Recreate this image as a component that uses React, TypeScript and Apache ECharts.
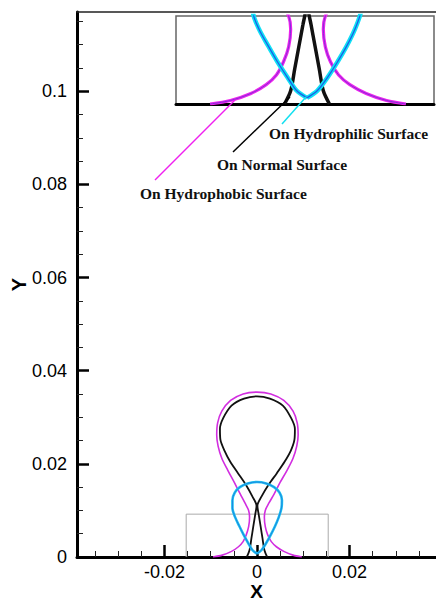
import React, { useEffect, useRef } from "react";
import * as echarts from "echarts";

// ---- tick values ----
const xMajorTicks = [-0.02, 0, 0.02];
const xMinorTicks = [-0.035, -0.03, -0.025, -0.015, -0.01, -0.005, 0.005, 0.01, 0.015, 0.025, 0.03, 0.035];
const yMajorTicks = [0, 0.02, 0.04, 0.06, 0.08, 0.1];
const yMinorTicks = [0.005, 0.01, 0.015, 0.025, 0.03, 0.035, 0.045, 0.05, 0.055, 0.065, 0.07, 0.075, 0.085, 0.09, 0.095, 0.105, 0.11, 0.115];

// ---- bubble outlines [x, y] ----
const hydrophobic: number[][] = [
  [-0.0095, 0], [-0.0075, 0.0004], [-0.0055, 0.0012], [-0.004, 0.0022], [-0.003, 0.0033],
  [-0.0023, 0.0048], [-0.0018, 0.0065], [-0.0016, 0.0085], [-0.0018, 0.01], [-0.0026, 0.0116],
  [-0.0036, 0.0135], [-0.0049, 0.016], [-0.0063, 0.0186], [-0.0076, 0.0212], [-0.0084, 0.0238],
  [-0.0087, 0.0262], [-0.0085, 0.0288], [-0.0076, 0.0313], [-0.0057, 0.0336], [-0.003, 0.035],
  [0, 0.0354],
  [0.003, 0.035], [0.0058, 0.0336], [0.0078, 0.0313], [0.0087, 0.0288], [0.0089, 0.0262],
  [0.0086, 0.0238], [0.0078, 0.0212], [0.0065, 0.0186], [0.005, 0.016], [0.0037, 0.0135],
  [0.0026, 0.0116], [0.0018, 0.01], [0.0016, 0.0085], [0.0018, 0.0065], [0.0023, 0.0048],
  [0.0031, 0.0033], [0.0042, 0.0022], [0.0058, 0.0012], [0.0078, 0.0004], [0.0097, 0],
];

const normal: number[][] = [
  [-0.0022, 0], [-0.0016, 0.0015], [-0.0012, 0.004], [-0.0008, 0.0065], [-0.0004, 0.009],
  [-0.0001, 0.011], [-0.001, 0.013], [-0.0024, 0.0155], [-0.0041, 0.018], [-0.0058, 0.0205],
  [-0.007, 0.0228], [-0.0079, 0.0252], [-0.008, 0.0275], [-0.0073, 0.0298], [-0.0055, 0.0325],
  [-0.0028, 0.034], [0, 0.0345],
  [0.0028, 0.034], [0.0056, 0.0325], [0.0074, 0.0298], [0.0082, 0.0275], [0.0081, 0.0252],
  [0.0073, 0.0228], [0.006, 0.0205], [0.0043, 0.018], [0.0025, 0.0155], [0.001, 0.013],
  [0.0001, 0.011], [0.0004, 0.009], [0.0008, 0.0065], [0.0012, 0.004], [0.0016, 0.0015],
  [0.0022, 0],
];

const hydrophilic: number[][] = [
  [0, 0.0007], [-0.001, 0.0015], [-0.0019, 0.003], [-0.0029, 0.0048], [-0.0038, 0.0066],
  [-0.0047, 0.0085], [-0.0053, 0.0105], [-0.0053, 0.0122], [-0.0048, 0.0138], [-0.0037, 0.015],
  [-0.002, 0.0158], [0, 0.0161], [0.002, 0.0158], [0.0037, 0.015], [0.0049, 0.0138],
  [0.0054, 0.0122], [0.0053, 0.0105], [0.0047, 0.0085], [0.0039, 0.0066], [0.003, 0.0048],
  [0.002, 0.003], [0.001, 0.0015], [0, 0.0007],
];

// zoom window drawn on the main plot
const zoomBox: number[][] = [
  [-0.0153, 0], [-0.0153, 0.0092], [0.0154, 0.0092], [0.0154, 0],
];

const FONT = "Liberation Sans, Arial, sans-serif";
const SERIF = "Liberation Serif, Times New Roman, serif";

export default function App() {
  const ref = useRef<HTMLDivElement>(null);
  useEffect(() => {
    if (!ref.current) return;
    const chart = echarts.init(ref.current, null, { renderer: "svg" });
    const lineBase = { type: "line", showSymbol: false, symbol: "none", smooth: 0.3, silent: true };
    const main = { xAxisIndex: 0, yAxisIndex: 0 };
    const ins = { xAxisIndex: 3, yAxisIndex: 2 };
    chart.setOption({
      animation: false,
      backgroundColor: "#fff",
      grid: [
        { left: 77, top: 12, width: 359, height: 545, outerBoundsMode: "none", containLabel: false },
        { left: 176, top: 16, width: 258, height: 88, outerBoundsMode: "none", containLabel: false, show: true, borderColor: "#666", borderWidth: 1.5, backgroundColor: "#fff", z: 5 },
      ],
      xAxis: [
        {
          type: "value", gridIndex: 0, min: -0.0389, max: 0.0387, position: "bottom",
          splitLine: { show: false },
          axisLine: { show: true, onZero: false, lineStyle: { color: "#000", width: 3 } },
          axisTick: { show: true, inside: true, length: 12, customValues: xMajorTicks, lineStyle: { color: "#000", width: 2.5 } },
          axisLabel: { show: true, customValues: xMajorTicks, margin: 6, fontSize: 18, lineHeight: 18, color: "#000", fontFamily: FONT },
          name: "X", nameLocation: "middle", nameGap: 26, nameMoveOverlap: false,
          nameTextStyle: { fontSize: 19, lineHeight: 17, fontWeight: "bold", color: "#000", fontFamily: FONT },
        },
        {
          type: "value", gridIndex: 0, min: -0.0389, max: 0.0387, position: "bottom",
          splitLine: { show: false }, axisLine: { show: false, onZero: false },
          axisTick: { show: true, inside: true, length: 6, customValues: xMinorTicks, lineStyle: { color: "#222", width: 1 } },
          axisLabel: { show: false },
        },
        {
          type: "value", gridIndex: 0, min: -0.0389, max: 0.0387, position: "top",
          splitLine: { show: false },
          axisLine: { show: true, onZero: false, lineStyle: { color: "#222", width: 1.5 } },
          axisTick: { show: false }, axisLabel: { show: false },
        },
        {
          type: "value", gridIndex: 1, min: -0.01284, max: 0.01245, position: "bottom",
          splitLine: { show: false },
          axisLine: { show: true, onZero: false, lineStyle: { color: "#000", width: 3 } },
          axisTick: { show: false }, axisLabel: { show: false }, z: 6,
        },
      ],
      yAxis: [
        {
          type: "value", gridIndex: 0, min: 0, max: 0.117, position: "left",
          splitLine: { show: false },
          axisLine: { show: true, onZero: false, lineStyle: { color: "#000", width: 3 } },
          axisTick: { show: true, inside: true, length: 12, customValues: yMajorTicks, lineStyle: { color: "#000", width: 2.5 } },
          axisLabel: { show: true, customValues: yMajorTicks, margin: 10, fontSize: 18, color: "#000", fontFamily: FONT },
          name: "Y", nameLocation: "middle", nameGap: 51, nameRotate: 90, nameMoveOverlap: false,
          nameTextStyle: { fontSize: 20, lineHeight: 15, fontWeight: "bold", color: "#000", fontFamily: FONT },
        },
        {
          type: "value", gridIndex: 0, min: 0, max: 0.117, position: "left",
          splitLine: { show: false }, axisLine: { show: false, onZero: false },
          axisTick: { show: true, inside: true, length: 6, customValues: yMinorTicks, lineStyle: { color: "#222", width: 1 } },
          axisLabel: { show: false },
        },
        {
          type: "value", gridIndex: 1, min: 0, max: 0.01, show: false,
          axisLine: { onZero: false },
        },
      ],
      series: [
        { ...lineBase, ...main, name: "zoom box", smooth: false, data: zoomBox, lineStyle: { color: "#aaa", width: 1 } },
        { ...lineBase, ...main, name: "On Hydrophobic Surface", data: hydrophobic, lineStyle: { color: "#d22ee0", width: 1.6 } },
        { ...lineBase, ...main, name: "On Normal Surface", data: normal, lineStyle: { color: "#111", width: 1.8 } },
        { ...lineBase, ...main, name: "On Hydrophilic Surface", data: hydrophilic, lineStyle: { color: "#1ec4f0", width: 2.6 } },
        { ...lineBase, ...main, name: "hydrophilic core", data: hydrophilic, lineStyle: { color: "#1b7ee0", width: 0.9 } },
        { ...lineBase, ...ins, name: "inset hydrophobic", data: hydrophobic, z: 7, lineStyle: { color: "#ee22ee", width: 3.2 } },
        { ...lineBase, ...ins, name: "inset hydrophobic core", data: hydrophobic, z: 7, lineStyle: { color: "#8030d8", width: 1 } },
        { ...lineBase, ...ins, name: "inset normal", data: normal, z: 7, lineStyle: { color: "#111", width: 3.5 } },
        { ...lineBase, ...ins, name: "inset hydrophilic", data: hydrophilic, z: 7, lineStyle: { color: "#10e0f4", width: 4.5 } },
        { ...lineBase, ...ins, name: "inset hydrophilic core", data: hydrophilic, z: 7, lineStyle: { color: "#1a60e8", width: 1.3 } },
      ],
      graphic: [
        { type: "line", z: 20, shape: { x1: 282, y1: 124, x2: 306, y2: 97 }, style: { stroke: "#10e0f0", lineWidth: 1.5 } },
        { type: "line", z: 20, shape: { x1: 233, y1: 152, x2: 290, y2: 97 }, style: { stroke: "#000", lineWidth: 1.5 } },
        { type: "line", z: 20, shape: { x1: 155, y1: 180, x2: 235, y2: 100 }, style: { stroke: "#f020f0", lineWidth: 1.5 } },
        { type: "text", z: 20, x: 269, y: 133, style: { text: "On Hydrophilic Surface", fill: "#111", font: `bold 15.5px ${SERIF}`, verticalAlign: "middle", align: "left" } },
        { type: "text", z: 20, x: 217, y: 164, style: { text: "On Normal Surface", fill: "#111", font: `bold 15.5px ${SERIF}`, verticalAlign: "middle", align: "left" } },
        { type: "text", z: 20, x: 140, y: 193, style: { text: "On Hydrophobic Surface", fill: "#111", font: `bold 15.5px ${SERIF}`, verticalAlign: "middle", align: "left" } },
      ],
    });
    return () => chart.dispose();
  }, []);
  return <div ref={ref} style={{ position: "absolute", left: 0, top: 0, width: 436, height: 601 }} />;
}
